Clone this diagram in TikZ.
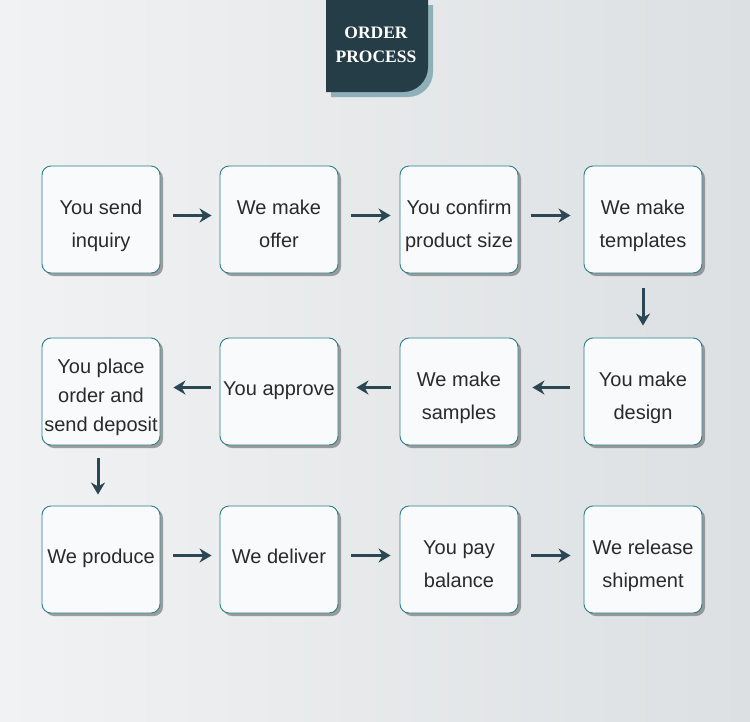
\documentclass[tikz,border=0pt]{standalone}
\usepackage{fontspec}
\setmainfont{Liberation Sans}
\newfontfamily\titlefont{Liberation Serif}
\usetikzlibrary{arrows.meta,shadows}

\definecolor{bgcol}{HTML}{F1F2F3}
\definecolor{bgdark}{HTML}{DCE0E2}
\definecolor{headcol}{HTML}{243D47}
\definecolor{headshade}{HTML}{8FB0B8}
\definecolor{boxline}{HTML}{2A808C}
\definecolor{boxfill}{HTML}{F8FAFB}
\definecolor{arrcol}{HTML}{2B4753}
\definecolor{txtcol}{HTML}{2A2A2A}

\tikzset{
  stepbox/.style={draw=boxline, line width=0.9pt, fill=boxfill, rounded corners=9pt,
    minimum width=118pt, minimum height=107pt, inner sep=0pt, align=center,
    text=txtcol, font=\fontsize{20}{33}\selectfont, text height=58pt, text depth=3pt,
    drop shadow={shadow xshift=3pt, shadow yshift=-3pt, opacity=0.6, fill=black!60}},
  oneline/.style={text height=10pt},
  threeline/.style={text height=82pt, font=\fontsize{20}{29}\selectfont},
  flow/.style={draw=arrcol, line width=3pt, -{Stealth[length=12pt,width=14pt]}}
}

\begin{document}
\begin{tikzpicture}[x=1pt,y=-1pt]
  % background
  \shade[left color=bgcol, right color=bgdark] (0,0) rectangle (750,721);
  \useasboundingbox (0,0) rectangle (750,721);

  % heading
  \fill[headshade] (331,5) -- (433,5) -- (433,72) arc[start angle=0, end angle=90, radius=25] -- (331,97) -- cycle;
  \fill[headcol] (326,0) -- (428,0) -- (428,67) arc[start angle=0, end angle=90, radius=25] -- (326,92) -- cycle;
  \node[text=white, align=center, font=\titlefont\bfseries\fontsize{17.5}{24}\selectfont] (head) at (376,45) {ORDER\\PROCESS};

  % row 1
  \node[stepbox] (s1) at (101,219.5) {You send\\inquiry};
  \node[stepbox] (s2) at (279,219.5) {We make\\offer};
  \node[stepbox] (s3) at (459,219.5) {You confirm\\product size};
  \node[stepbox] (s4) at (643,219.5) {We make\\templates};

  % row 2
  \node[stepbox, threeline] (s5) at (101,391.5) {You place\\order and\\send deposit};
  \node[stepbox, oneline] (s6) at (279,391.5) {You approve};
  \node[stepbox] (s7) at (459,391.5) {We make\\samples};
  \node[stepbox] (s8) at (643,391.5) {You make\\design};

  % row 3
  \node[stepbox, oneline] (s9) at (101,559.5) {We produce};
  \node[stepbox, oneline] (s10) at (279,559.5) {We deliver};
  \node[stepbox] (s11) at (459,559.5) {You pay\\balance};
  \node[stepbox] (s12) at (643,559.5) {We release\\shipment};

  % connectors
  \draw[flow, shorten <=13pt, shorten >=8pt] ([yshift=4pt]s1.east) -- ([yshift=4pt]s2.west);
  \draw[flow, shorten <=13pt, shorten >=9pt] ([yshift=4pt]s2.east) -- ([yshift=4pt]s3.west);
  \draw[flow, shorten <=13pt, shorten >=13pt] ([yshift=4pt]s3.east) -- ([yshift=4pt]s4.west);
  \draw[flow, shorten <=15pt, shorten >=12pt] (s4.south) -- (s8.north);
  \draw[flow, shorten <=14pt, shorten >=14pt] ([yshift=4pt]s8.west) -- ([yshift=4pt]s7.east);
  \draw[flow, shorten <=9pt, shorten >=18pt] ([yshift=4pt]s7.west) -- ([yshift=4pt]s6.east);
  \draw[flow, shorten <=9pt, shorten >=13pt] ([yshift=4pt]s6.west) -- ([yshift=4pt]s5.east);
  \draw[flow, shorten <=13pt, shorten >=11pt] ([xshift=-3pt]s5.south) -- ([xshift=-3pt]s9.north);
  \draw[flow, shorten <=13pt, shorten >=8pt] ([yshift=4pt]s9.east) -- ([yshift=4pt]s10.west);
  \draw[flow, shorten <=13pt, shorten >=9pt] ([yshift=4pt]s10.east) -- ([yshift=4pt]s11.west);
  \draw[flow, shorten <=13pt, shorten >=13pt] ([yshift=4pt]s11.east) -- ([yshift=4pt]s12.west);
\end{tikzpicture}
\end{document}
